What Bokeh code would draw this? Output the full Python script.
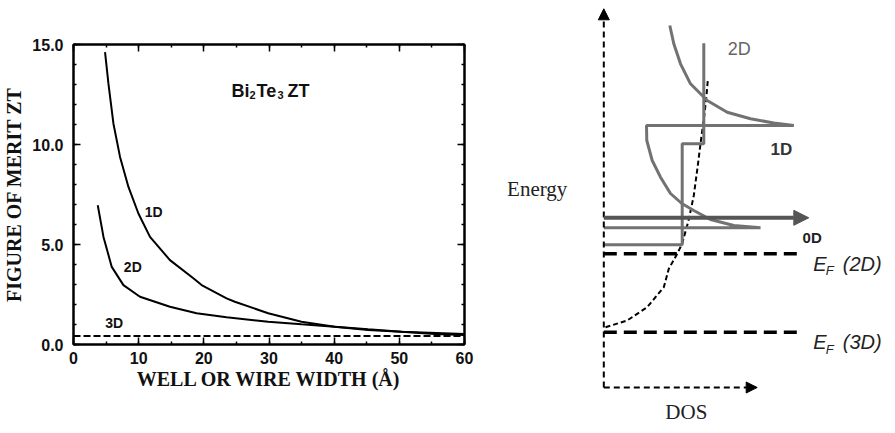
from bokeh.plotting import figure
from bokeh.models import Range1d, LinearAxis, FixedTicker, Arrow, NormalHead, NumeralTickFormatter
from bokeh.layouts import row
from bokeh.embed import file_html
from bokeh.resources import INLINE
from bokeh.core.properties import value

# ---------------- left panel data: ZT vs well / wire width (Å) ----------------
x_ticks = [0, 10, 20, 30, 40, 50, 60]
x_minor = [0, 5, 10, 15, 20, 25, 30, 35, 40, 45, 50, 55, 60]
y_ticks = [0, 5, 10, 15]
y_minor = list(range(0, 16))

width_1d = [4.84, 5.36, 6.13, 7.14, 8.43, 9.96, 11.74, 14.80, 18.39, 19.66, 23.49, 24.76,
            29.88, 34.98, 40.08, 45.20, 50.30, 55.40, 60.0]
zt_1d = [14.62, 13.04, 11.04, 9.38, 7.88, 6.55, 5.38, 4.22, 3.31, 2.97, 2.31, 2.14,
         1.56, 1.14, 0.89, 0.72, 0.64, 0.52, 0.47]

width_2d = [3.72, 4.60, 5.87, 7.66, 10.20, 14.80, 18.89, 23.49, 29.88, 34.98, 40.08, 45.20, 50.30, 60.0]
zt_2d = [6.96, 5.38, 3.88, 2.97, 2.39, 1.89, 1.56, 1.36, 1.14, 1.01, 0.89, 0.76, 0.64, 0.52]

width_3d = [0, 60]
zt_3d = [0.42, 0.42]

curve_labels = ["1D", "2D", "3D"]
curve_label_x = [12.3, 9.1, 6.25]
curve_label_y = [6.63, 3.88, 1.06]

# title pieces "Bi2Te3 ZT"
title_parts = ["Bi", "2", "Te", "3", "ZT"]
title_x, title_y = 24.25, 12.67

# ---------------- right panel data: schematic density of states ----------------
dos_axis_end = 153.4
energy_axis_end = 378.7
ef_2d = 133.7
ef_3d = 55.3
ef_line_end = 200.0

dos_3d = [1.7, 23.4, 43.4, 60, 65, 73.4, 78.4, 85, 90, 94, 97.5, 100.5, 102.5, 104]
e_3d = [60.3, 67, 80.3, 100.3, 118.7, 133.7, 144, 168, 192, 222, 250, 272, 290, 307]

dos_2d = [0, 78.4, 78.4, 100, 100]
e_2d = [142.7, 142.7, 243.7, 243.7, 344.3]

dos_1d = [0, 156.7, 130, 106.7, 90, 78, 66.7, 56.7, 48.4, 43, 42.7,
          190, 170, 146.7, 123.4, 103.4, 86.7, 76.7, 70, 66]
e_1d = [159.7, 159.7, 162, 168, 177, 184, 194, 210.3, 227, 247, 262,
        262, 264.5, 268.7, 275.3, 287, 303.7, 323.7, 343.7, 362]

e_0d = 169.7
dos_0d_end = 205.0

# ======================= left figure =======================
SANS = "Liberation Sans"
SERIF = "Liberation Serif"

p1 = figure(width=488, height=425, x_range=Range1d(0, 60), y_range=Range1d(0, 15),
            output_backend="svg", toolbar_location=None,
            min_border_left=72, min_border_right=24, min_border_top=44, min_border_bottom=81)
p1.grid.visible = False
p1.outline_line_color = "black"
p1.outline_line_width = 2
p1.background_fill_color = "white"
p1.border_fill_color = "white"

bottom_axis = p1.below[0]
left_axis = p1.left[0]
bottom_axis.ticker = FixedTicker(ticks=x_ticks, minor_ticks=x_minor)
left_axis.ticker = FixedTicker(ticks=y_ticks, minor_ticks=y_minor)
left_axis.formatter = NumeralTickFormatter(format="0.0")
bottom_axis.axis_label = "WELL OR WIRE WIDTH (Å)"
left_axis.axis_label = "FIGURE OF MERIT ZT"

top_axis = LinearAxis(ticker=FixedTicker(ticks=x_ticks, minor_ticks=x_minor),
                      major_label_overrides={t: "" for t in x_ticks})
right_axis = LinearAxis(ticker=FixedTicker(ticks=y_ticks, minor_ticks=y_minor),
                        major_label_overrides={t: "" for t in y_ticks})
p1.add_layout(top_axis, "above")
p1.add_layout(right_axis, "right")

for ax in [bottom_axis, left_axis, top_axis, right_axis]:
    ax.major_tick_in = 7
    ax.major_tick_out = 0
    ax.minor_tick_in = 3
    ax.minor_tick_out = 0
    ax.axis_line_width = 2
    ax.axis_line_color = "black"
    ax.major_tick_line_width = 1.5
    ax.minor_tick_line_width = 1.5
    ax.major_tick_line_color = "black"
    ax.minor_tick_line_color = "black"
    ax.major_label_text_font = SANS
    ax.major_label_text_font_style = "bold"
    ax.major_label_text_font_size = "16px"
    ax.major_label_text_color = "#111111"
    ax.axis_label_text_font = SERIF
    ax.axis_label_text_font_style = "bold"
    ax.axis_label_text_font_size = "20px"
    ax.axis_label_text_color = "#111111"

for ax in [top_axis, right_axis]:
    ax.major_label_standoff = 0

bottom_axis.major_label_standoff = 7
bottom_axis.axis_label_standoff = 1
left_axis.major_label_standoff = 10
left_axis.axis_label_standoff = 4

p1.line(width_1d, zt_1d, line_color="black", line_width=2)
p1.line(width_2d, zt_2d, line_color="black", line_width=2)
p1.line(width_3d, zt_3d, line_color="black", line_width=2, line_dash="7 3")

p1.text(x=curve_label_x, y=curve_label_y, text=curve_labels, text_align="center",
        text_baseline="middle", text_font=value(SANS), text_font_style="bold",
        text_font_size="14px", text_color="#111111")

big = dict(text_font=value(SANS), text_font_style="bold", text_font_size="18px",
           text_color="#111111", text_baseline="alphabetic", text_align="left")
small = dict(text_font=value(SANS), text_font_style="bold", text_font_size="11px",
             text_color="#111111", text_baseline="alphabetic", text_align="left")
p1.text(x=[title_x], y=[title_y], text=[title_parts[0]], x_offset=0, **big)
p1.text(x=[title_x], y=[title_y], text=[title_parts[1]], x_offset=18, y_offset=4, **small)
p1.text(x=[title_x], y=[title_y], text=[title_parts[2]], x_offset=25, **big)
p1.text(x=[title_x], y=[title_y], text=[title_parts[3]], x_offset=46, y_offset=4, **small)
p1.text(x=[title_x], y=[title_y], text=[title_parts[4]], x_offset=56, **big)

# ======================= right figure =======================
p2 = figure(width=399, height=425, x_range=Range1d(-115.3, 283.7), y_range=Range1d(-38, 387),
            output_backend="svg", toolbar_location=None,
            x_axis_location=None, y_axis_location=None,
            min_border_left=0, min_border_right=0, min_border_top=0, min_border_bottom=0)
p2.grid.visible = False
p2.outline_line_color = None
p2.background_fill_color = "white"
p2.border_fill_color = "white"
p1.frame_align = False
p2.frame_align = False

# dashed axes with arrow heads
p2.add_layout(Arrow(end=NormalHead(size=11, fill_color="black", line_color="black", line_width=1),
                    x_start=0, y_start=0, x_end=0, y_end=energy_axis_end,
                    line_color="black", line_width=2, line_dash="6 4"))
p2.add_layout(Arrow(end=NormalHead(size=11, fill_color="black", line_color="black", line_width=1),
                    x_start=0, y_start=0, x_end=dos_axis_end, y_end=0,
                    line_color="black", line_width=2, line_dash="6 4"))

# Fermi levels
p2.line([0, ef_line_end], [ef_2d, ef_2d], line_color="black", line_width=3.5, line_dash="13 7")
p2.line([0, ef_line_end], [ef_3d, ef_3d], line_color="black", line_width=3.5, line_dash="13 7")

# 3D DOS (dashed)
p2.line(dos_3d, e_3d, line_color="black", line_width=2, line_dash="5 3")
# 2D staircase
p2.line(dos_2d, e_2d, line_color="#727272", line_width=3)
# 1D
p2.line(dos_1d, e_1d, line_color="#727272", line_width=3)
# 0D arrow
p2.add_layout(Arrow(end=NormalHead(size=15, fill_color="#555555", line_color="#555555", line_width=1),
                    x_start=0, y_start=e_0d, x_end=dos_0d_end, y_end=e_0d,
                    line_color="#555555", line_width=4))

# texts
p2.text(x=[-66.6], y=[199], text=["Energy"], text_align="center", text_baseline="middle",
        text_font=value(SERIF), text_font_size="21px", text_color="#222222")
p2.text(x=[82.5], y=[-24.7], text=["DOS"], text_align="center", text_baseline="middle",
        text_font=value(SERIF), text_font_size="21px", text_color="#222222")
p2.text(x=[135.5], y=[338.7], text=["2D"], text_align="center", text_baseline="middle",
        text_font=value(SANS), text_font_size="18px", text_color="#666666")
p2.text(x=[177.5], y=[237.8], text=["1D"], text_align="center", text_baseline="middle",
        text_font=value(SANS), text_font_style="bold", text_font_size="17px", text_color="#333333")
p2.text(x=[208.4], y=[150.3], text=["0D"], text_align="center", text_baseline="middle",
        text_font=value(SANS), text_font_style="bold", text_font_size="15px", text_color="#222222")

ef_levels = [ef_2d, ef_3d]
ef_names = ["(2D)", "(3D)"]
for lvl, nm in zip(ef_levels, ef_names):
    p2.text(x=[209.4], y=[lvl], text=["E"], text_align="left", text_baseline="alphabetic",
            y_offset=10, text_font=value(SANS), text_font_style="italic",
            text_font_size="20px", text_color="#222222")
    p2.text(x=[222.0], y=[lvl], text=["F"], text_align="left", text_baseline="alphabetic",
            y_offset=17, text_font=value(SANS), text_font_style="italic",
            text_font_size="13px", text_color="#222222")
    p2.text(x=[239.0], y=[lvl], text=[nm], text_align="left", text_baseline="alphabetic",
            y_offset=10, text_font=value(SANS), text_font_style="italic",
            text_font_size="20px", text_color="#222222")

layout = row(p1, p2)
open("out.html", "w").write(file_html(layout, INLINE))
